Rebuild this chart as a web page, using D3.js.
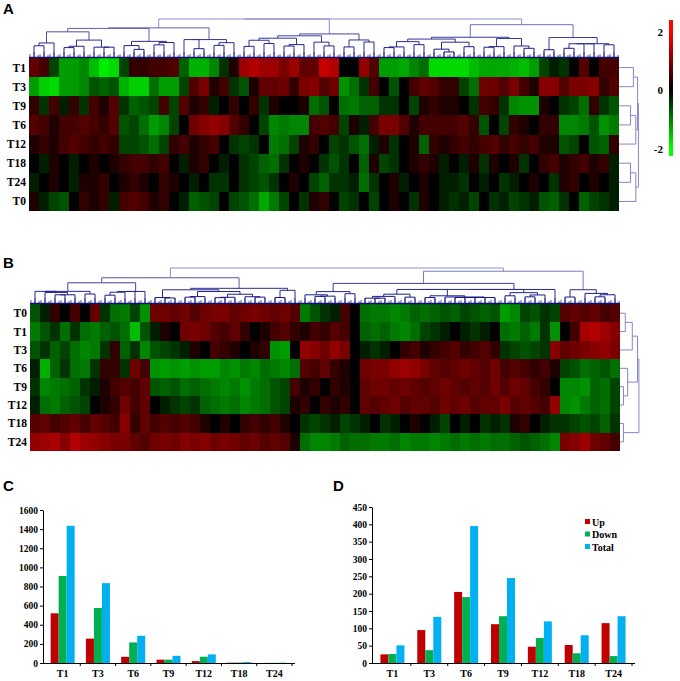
<!DOCTYPE html>
<html><head><meta charset="utf-8">
<script src="https://cdn.jsdelivr.net/npm/d3@7"></script>
<style>body{margin:0;background:#fff}svg{display:block}</style>
</head><body><svg id="c" width="680" height="681"></svg>
<script>
// ---------- DATA ----------
const rowsA = ["T1","T3","T9","T6","T12","T18","T24","T0"];
const heatA_T1 = [0.5,0.3,-0.3,-1.0,-1.0,-0.8,-1.3,-1.8,-1.6,-0.3,0.2,0.2,0.3,0.3,0.4,-0.5,-1.2,-1.2,-0.8,-0.2,0.1,1.0,1.2,1.0,1.0,0.7,1.0,0.5,0.5,1.4,1.2,0.0,0.0,0.9,0.4,-1.0,-1.0,-1.1,-0.8,-0.6,-1.6,-1.6,-1.6,-1.6,-1.3,-1.1,-1.1,-1.1,-1.2,-1.3,-1.0,-0.3,-0.1,-0.2,0.0,0.4,0.0,0.3,0.3];
const heatA_T3 = [-1.0,-1.5,-1.6,-1.0,-1.0,-0.8,-0.4,-0.5,-0.4,-1.2,-1.5,-1.5,-0.6,-1.0,-1.0,-0.3,0.4,0.7,0.1,0.3,-0.2,-0.4,0.1,0.5,0.5,0.6,0.2,0.7,0.8,0.4,0.6,-0.9,-0.6,-0.2,0.3,0.0,-0.4,0.0,0.3,0.5,0.4,0.2,0.2,-0.3,-0.6,0.6,0.6,0.4,0.7,0.3,0.1,0.8,0.8,0.4,0.7,0.7,0.8,0.2,0.4];
const heatA_T9 = [0.2,-0.2,0.3,-0.1,0.2,-0.2,0.3,0.1,0.4,-0.2,-0.5,-0.4,-0.3,0.3,-0.3,0.4,0.1,0.2,-0.1,0.0,0.2,0.0,0.2,-0.2,0.1,0.0,0.0,0.1,-0.6,-0.4,0.0,-0.6,-0.7,-0.5,-0.5,-0.2,-0.2,0.0,-0.3,0.1,0.2,0.1,0.1,0.0,-0.2,0.3,0.2,-0.2,-0.8,-0.9,-0.9,0.1,0.0,-0.2,-0.3,-0.6,0.2,-0.2,-0.4];
const heatA_T6 = [0.4,0.3,0.1,0.3,0.3,0.4,0.3,0.2,0.4,-0.4,-0.3,-0.6,-1.0,-0.8,-0.3,0.0,0.6,0.8,0.9,0.8,0.4,0.2,0.0,-0.3,-0.8,-0.7,-0.8,-0.8,0.3,0.4,0.3,-0.3,0.1,-0.1,0.3,0.7,0.7,0.4,0.1,0.3,0.3,0.3,0.3,0.4,0.2,-0.4,0.0,-0.3,0.2,0.1,0.0,0.2,0.2,-0.8,-0.8,-0.7,-0.4,-0.9,-0.7];
const heatA_T12 = [0.1,0.2,0.1,0.3,0.4,0.3,0.2,0.3,0.2,-0.3,-0.3,-0.4,-0.6,-0.3,0.2,0.3,0.1,0.2,0.3,0.0,-0.2,-0.3,-0.2,0.0,-0.7,-0.6,-0.3,0.1,0.2,0.0,-0.3,-0.2,-0.4,-0.6,-0.1,0.1,-0.2,0.0,0.1,-0.5,0.2,0.1,0.2,0.3,0.2,0.3,0.4,0.2,0.3,0.2,0.3,0.1,0.1,-0.4,-0.3,0.0,-0.4,-0.5,0.2];
const heatA_T18 = [0.0,-0.1,0.1,0.0,-0.1,0.0,0.1,0.0,0.1,0.2,0.3,0.3,0.2,0.3,0.0,-0.1,0.1,0.2,0.0,-0.1,0.0,-0.2,-0.3,-0.5,-0.6,-0.2,0.0,0.1,0.0,-0.2,-0.4,-0.2,0.0,-0.5,0.1,-0.3,-0.2,0.0,0.1,0.2,0.1,-0.1,0.0,-0.1,0.1,-0.2,0.1,0.0,0.1,-0.2,0.0,0.2,0.3,0.1,0.2,0.3,0.1,0.2,-0.1];
const heatA_T24 = [-0.1,0.0,0.1,0.0,-0.1,0.1,0.1,0.2,0.0,0.1,0.2,0.1,0.0,0.2,0.1,0.0,-0.1,0.0,-0.2,-0.2,0.0,-0.2,-0.3,-0.4,-0.2,0.0,0.1,0.0,-0.3,-0.5,-0.2,-0.2,-0.1,-0.6,-0.2,0.0,0.1,-0.1,0.0,0.1,0.0,-0.1,-0.1,-0.2,0.0,-0.1,0.0,-0.2,-0.1,0.0,0.1,0.0,-0.2,0.1,0.2,0.0,0.1,0.0,-0.1];
const heatA_T0 = [0.1,-0.1,-0.3,-0.4,0.0,0.2,0.1,0.2,-0.1,0.3,0.4,0.3,0.1,0.2,0.0,-0.1,-0.5,-0.4,-0.3,0.0,-0.3,-0.4,-0.6,-1.1,-0.7,-0.3,0.0,-0.2,0.1,0.2,0.0,-0.3,-0.2,0.0,-0.3,0.0,0.1,0.0,-0.2,0.1,0.0,-0.1,-0.2,-0.1,-0.3,0.0,-0.2,-0.1,-0.3,-0.2,-0.1,-0.4,-0.5,-0.2,0.0,-0.5,-0.3,-0.2,-0.1];

const rowsB = ["T0","T1","T3","T6","T9","T12","T18","T24"];
const heatB_T0 = [-0.4,-0.1,0.2,0.0,0.3,0.0,0.5,-0.2,-0.6,-0.7,-0.3,-0.9,0.6,0.6,0.5,0.6,0.4,0.6,0.7,0.7,0.5,0.6,0.7,0.6,0.5,0.6,0.4,-0.7,-0.4,-0.2,-0.1,0.3,0.0,-0.6,-0.7,-0.7,-0.8,-0.7,-0.5,-0.6,-0.5,-0.4,-0.5,-0.3,-0.4,-0.5,-0.4,-1.0,-0.8,-0.3,-0.4,-0.2,-0.3,0.4,0.5,0.4,0.5,0.3,0.4];
const heatB_T1 = [-0.7,-0.4,-0.2,-0.6,-0.2,-0.6,-0.7,-0.5,-0.4,-0.6,-1.3,-0.4,-0.1,0.1,0.0,0.6,0.7,0.6,0.4,0.3,0.5,0.2,0.0,0.1,0.3,0.4,0.2,0.1,0.3,0.2,0.4,0.3,0.0,-0.5,-0.6,-0.5,-0.7,-0.8,-0.6,-0.3,-0.2,-0.1,0.0,-0.1,-0.2,-0.1,0.0,-0.6,-0.7,-0.5,-0.7,-0.2,-0.9,0.0,0.3,1.1,1.2,1.0,0.8];
const heatB_T3 = [-0.4,-0.2,-0.5,-0.3,-0.6,-0.8,-0.7,-0.2,0.2,-0.5,-0.2,-0.8,-0.4,-0.3,-0.2,-0.1,0.1,0.0,0.3,0.2,0.1,0.0,0.1,0.2,-0.9,-1.0,0.0,0.9,0.8,0.6,0.9,0.7,0.0,-0.1,-0.2,-0.1,0.0,0.2,0.3,0.1,0.2,0.3,0.4,0.2,0.3,0.4,0.2,-0.2,-0.3,-0.4,-0.3,-0.2,0.8,0.5,0.6,0.7,0.8,0.9,0.7];
const heatB_T6 = [-0.1,-1.2,-0.5,-0.2,-0.6,-0.7,-0.2,0.2,0.2,-0.2,0.6,0.3,-0.9,-1.0,-0.9,-1.0,-0.9,-1.0,-1.0,-0.8,-0.9,-0.7,-0.8,-0.6,-0.7,-0.8,-0.6,0.4,0.3,0.5,0.2,0.1,0.0,0.6,0.7,0.7,0.9,1.0,0.9,0.7,0.5,0.4,0.5,0.6,0.5,0.4,0.6,0.3,0.4,0.3,0.2,0.3,0.1,-0.3,-0.4,-0.6,-0.5,-0.4,-0.6];
const heatB_T9 = [-0.2,-0.8,-0.7,-0.6,-0.5,-0.2,-0.1,0.1,0.3,0.4,0.3,0.5,-0.4,-0.5,-0.4,-0.6,-0.5,-0.6,-0.7,-0.8,-0.7,-0.9,-0.7,-0.6,-0.4,-0.3,0.3,0.1,0.2,0.0,0.2,0.1,0.0,0.5,0.6,0.6,0.5,0.6,0.5,0.4,0.5,0.6,0.5,0.4,0.5,0.4,0.6,0.4,0.6,0.5,0.3,0.2,0.0,-0.8,-0.8,-0.9,-0.5,-0.6,-0.3];
const heatB_T12 = [-0.1,-0.6,-0.7,-0.5,-0.4,-0.3,0.0,0.1,0.2,0.6,0.3,0.5,0.0,-0.1,-0.2,-0.3,-0.2,-0.5,-0.6,-0.7,-0.6,-0.8,-0.7,-0.6,-0.4,-0.3,0.1,0.2,0.0,0.2,0.1,0.2,0.0,0.5,0.4,0.5,0.6,0.4,0.5,0.5,0.4,0.6,0.5,0.6,0.4,0.5,0.5,0.7,0.4,0.5,0.4,0.3,0.9,-0.8,-0.9,-0.7,-0.5,-0.6,-0.3];
const heatB_T18 = [0.4,0.5,0.3,0.4,0.5,0.3,0.5,0.4,0.3,0.8,0.2,0.5,0.3,0.4,0.3,0.4,0.3,0.1,0.0,0.1,0.0,0.2,0.3,0.2,0.3,0.1,0.0,-0.2,-0.3,-0.2,-0.1,-0.3,-0.2,-0.1,0.0,-0.2,-0.1,0.0,0.1,0.0,-0.1,-0.3,0.0,-0.1,0.0,-0.2,-0.1,-0.2,0.1,0.2,0.0,-0.1,-0.2,-0.2,-0.3,-0.4,-0.3,-0.5,-0.2];
const heatB_T24 = [0.9,1.0,1.1,0.8,1.2,1.0,0.9,0.8,0.7,0.7,0.5,0.4,0.6,0.7,0.6,0.8,0.7,0.8,0.6,0.7,0.6,0.5,0.6,0.4,0.5,0.4,0.1,-0.6,-0.8,-0.8,-0.7,-0.5,-0.6,-0.6,-0.7,-0.7,-0.6,-0.8,-0.7,-0.7,-0.8,-0.7,-0.6,-0.7,-0.6,-0.7,-0.6,-0.6,-0.5,-0.4,-0.5,-0.6,-0.8,0.7,0.8,1.0,0.6,0.5,0.3];

// row dendrograms (merge heights)
const rowTreeA = {h:18.5, c:[{h:17.7, c:[{h:13.7, c:["T1","T3"]},{h:16, c:[{h:11, c:["T9","T6"]},"T12"]}]},{h:16, c:[{h:11, c:["T18","T24"]},"T0"]}]};
const rowTreeB = {h:18, c:[{h:16.7, c:[{h:11.7, c:[{h:5, c:["T0","T1"]},"T3"]},{h:7.3, c:["T6",{h:3.3, c:["T9","T12"]}]}]},{h:3.3, c:["T18","T24"]}]};

const colorTicks = [2, 0, -2];

const timepoints = ["T1","T3","T6","T9","T12","T18","T24"];
const seriesNames = ["Up","Down","Total"];
const upC    = [520, 255, 65, 35, 20, 3, 1];
const downC  = [910, 575, 215, 35, 65, 5, 2];
const totalC = [1435, 835, 285, 75, 90, 10, 3];
const upD    = [25, 95, 205, 112, 47, 52, 115];
const downD  = [26, 37, 190, 135, 72, 28, 20];
const totalD = [51, 133, 395, 245, 120, 80, 135];
const ticksC = [0,200,400,600,800,1000,1200,1400,1600];
const ticksD = [0,50,100,150,200,250,300,350,400,450];

// ---------- DRAW ----------
const svg = d3.select("#c");
const serif = "'Liberation Serif','Times New Roman',serif";
const sans = "'Liberation Sans',Arial,sans-serif";
const baseColor = d3.scaleLinear().domain([-2,0,2]).range(["#00ff00","#000000","#ff0000"]).clamp(true);
const heatColor = v => baseColor(Math.sign(v)*2*Math.pow(Math.min(Math.abs(v),2)/2,0.7));

function clusterCols(matrix){
  const n = matrix[0].length;
  let nodes = d3.range(n).map(i => ({idx:i, size:1, cent:matrix.map(r=>r[i]), h:0}));
  while(nodes.length>1){
    let best=0, bd=Infinity;
    for(let i=0;i<nodes.length-1;i++){
      const a=nodes[i], b=nodes[i+1];
      let s=0; for(let k=0;k<a.cent.length;k++){const d=a.cent[k]-b.cent[k]; s+=d*d;}
      const d=Math.sqrt(2*a.size*b.size/(a.size+b.size)*s);
      if(d<bd){bd=d;best=i;}
    }
    const a=nodes[best], b=nodes[best+1], size=a.size+b.size;
    const m={children:[a,b], size, cent:a.cent.map((v,k)=>(v*a.size+b.cent[k]*b.size)/size), h:Math.max(bd,a.h,b.h)*1.0001+1e-6};
    nodes.splice(best,2,m);
  }
  return nodes[0];
}

function heatPanel(opt){
  const {rows, matrix, x0, x1, y0, y1, dTop, rowTree, label, ly} = opt;
  const g = svg.append("g");
  const n = matrix[0].length;
  const xb = d3.scaleBand().domain(d3.range(n)).range([x0,x1]);
  const yb = d3.scaleBand().domain(rows).range([y0,y1]);
  rows.forEach((r,ri)=>{
    g.selectAll(null).data(matrix[ri]).join("rect")
      .attr("x",(d,i)=>xb(i)).attr("y",yb(r))
      .attr("width",xb.bandwidth()+0.3).attr("height",yb.bandwidth()+0.3)
      .attr("fill",d=>heatColor(d)).attr("shape-rendering","crispEdges");
  });
  g.selectAll(null).data(rows).join("text")
    .attr("x",x0-3).attr("y",d=>yb(d)+yb.bandwidth()/2).attr("dy","0.35em")
    .attr("text-anchor","end").attr("font-family",serif).attr("font-weight","bold")
    .attr("font-size",11.5).text(d=>d);
  const root = clusterCols(matrix);
  const hy = d3.scalePow().exponent(0.55).domain([0,root.h]).range([y0-1,dTop]);
  const dcol = d3.scaleLinear().domain([0,root.h]).range(["#141485","#8c8cd2"]);
  function pos(nd){
    if(!nd.children){ nd.x = xb(nd.idx)+xb.bandwidth()/2; nd.y = hy(0); return; }
    nd.children.forEach(pos);
    nd.x = (nd.children[0].x + nd.children[1].x)/2; nd.y = hy(nd.h);
  }
  pos(root);
  const links=[];
  (function walk(nd){ if(nd.children){ links.push(nd); nd.children.forEach(walk);} })(root);
  g.selectAll(null).data(links).join("path")
    .attr("d",nd=>{const a=nd.children[0], b=nd.children[1];
      return `M${a.x},${a.y}V${nd.y}H${b.x}V${b.y}`;})
    .attr("fill","none").attr("stroke",nd=>dcol(nd.h)).attr("stroke-width",1);
  g.selectAll(null).data(d3.range(n)).join("path")
    .attr("d",i=>`M${xb(i)+1},${y0}V${y0-4}M${xb(i)+xb.bandwidth()/2},${y0}V${y0-6}M${xb(i)+xb.bandwidth()-1},${y0}V${y0-3}`)
    .attr("stroke","#2a2a9a").attr("stroke-width",0.8).attr("fill","none");
  g.append("line").attr("x1",x0).attr("x2",x1).attr("y1",y0-0.5).attr("y2",y0-0.5)
    .attr("stroke","#10106e").attr("stroke-width",1.5);
  const rx = d3.scaleLinear().domain([0,20]).range([x1,x1+21]);
  const rlinks=[];
  function rpos(nd){
    if(typeof nd === "string") return {y: yb(nd)+yb.bandwidth()/2, x: rx(0)};
    const ch = nd.c.map(rpos);
    const p = {y:(ch[0].y+ch[1].y)/2, x: rx(nd.h)};
    rlinks.push([ch[0],p,ch[1]]);
    return p;
  }
  rpos(rowTree);
  g.selectAll(null).data(rlinks).join("path")
    .attr("d",([a,p,b])=>`M${a.x},${a.y}H${p.x}V${b.y}H${b.x}`)
    .attr("fill","none").attr("stroke","#8585cc").attr("stroke-width",1);
  svg.append("text").attr("x",3).attr("y",ly).attr("font-family",sans).attr("font-weight","bold")
    .attr("font-size",15).text(label);
}

heatPanel({rows:rowsA, matrix:[heatA_T1,heatA_T3,heatA_T9,heatA_T6,heatA_T12,heatA_T18,heatA_T24,heatA_T0],
  x0:29, x1:619, y0:58, y1:211, dTop:19, rowTree:rowTreeA, label:"A", ly:14});
heatPanel({rows:rowsB, matrix:[heatB_T0,heatB_T1,heatB_T3,heatB_T6,heatB_T9,heatB_T12,heatB_T18,heatB_T24],
  x0:30, x1:620, y0:304, y1:451, dTop:268, rowTree:rowTreeB, label:"B", ly:268});

// color bar
const cbY = d3.scaleLinear().domain([-2,2]).range([149,32]);
const defs = svg.append("defs");
const grad = defs.append("linearGradient").attr("id","cb").attr("x1",0).attr("x2",0).attr("y1",0).attr("y2",1);
const cbTop=20, cbBot=156;
d3.range(0,1.0001,0.05).forEach(t=>{
  const v = cbY.invert(cbTop + t*(cbBot-cbTop));
  grad.append("stop").attr("offset",t).attr("stop-color",baseColor(v));
});
svg.append("rect").attr("x",669).attr("y",cbTop).attr("width",4).attr("height",cbBot-cbTop).attr("fill","url(#cb)");
svg.selectAll(null).data(colorTicks).join("text")
  .attr("x",663).attr("y",d=>cbY(d)).attr("dy","0.35em").attr("text-anchor","end")
  .attr("font-family",serif).attr("font-weight","bold").attr("font-size",11).text(d=>d);

// bar charts
const colors = {Up:"#c00000", Down:"#00b050", Total:"#00b0f0"};
function barPanel(opt){
  const {series, ticks, ymax, x0, x1, yTop, label, lx, legend} = opt;
  const yBase = 663;
  const g = svg.append("g");
  const x = d3.scaleBand().domain(timepoints).range([x0+2,x1]);
  const xs = d3.scaleBand().domain(seriesNames).range([0,24]);
  const y = d3.scaleLinear().domain([0,ymax]).range([yBase,yTop]);
  const off = (x.bandwidth()-24)/2;
  seriesNames.forEach((s,si)=>{
    g.selectAll(null).data(series[si]).join("rect")
      .attr("x",(d,i)=>x(timepoints[i])+off+xs(s)).attr("width",xs.bandwidth())
      .attr("y",d=>y(d)).attr("height",d=>yBase-y(d)).attr("fill",colors[s]);
  });
  const ax = g.append("g").attr("transform",`translate(${x0},0)`)
    .call(d3.axisLeft(y).tickValues(ticks).tickFormat(d3.format("d")).tickSize(3).tickPadding(2).tickSizeOuter(0));
  ax.select(".domain").attr("stroke","#000");
  ax.selectAll("text").attr("font-family",serif).attr("font-weight","bold").attr("font-size",9.5).attr("fill","#000");
  g.append("line").attr("x1",x0).attr("x2",x1+3).attr("y1",yBase+0.5).attr("y2",yBase+0.5).attr("stroke","#000");
  g.selectAll(null).data(timepoints).join("line")
    .attr("x1",d=>x(d)+x.bandwidth()).attr("x2",d=>x(d)+x.bandwidth())
    .attr("y1",yBase).attr("y2",yBase+3).attr("stroke","#000");
  g.selectAll(null).data(timepoints).join("text")
    .attr("x",d=>x(d)+x.bandwidth()/2).attr("y",677).attr("text-anchor","middle")
    .attr("font-family",serif).attr("font-weight","bold").attr("font-size",10).text(d=>d);
  svg.append("text").attr("x",lx).attr("y",491).attr("font-family",sans).attr("font-weight","bold")
    .attr("font-size",15).text(label);
  if(legend){
    const lg = g.selectAll(null).data(seriesNames).join("g")
      .attr("transform",(d,i)=>`translate(585,${522+i*12.5})`);
    lg.append("rect").attr("x",0).attr("y",-3).attr("width",5).attr("height",5).attr("fill",d=>colors[d]);
    lg.append("text").attr("x",7).attr("y",0).attr("dy","0.35em").attr("font-family",serif)
      .attr("font-weight","bold").attr("font-size",10).text(d=>d);
  }
}
barPanel({series:[upC,downC,totalC], ticks:ticksC, ymax:1600, x0:43, x1:292, yTop:510, label:"C", lx:3, legend:false});
barPanel({series:[upD,downD,totalD], ticks:ticksD, ymax:450, x0:372, x1:632, yTop:507, label:"D", lx:333, legend:true});
</script></body></html>
